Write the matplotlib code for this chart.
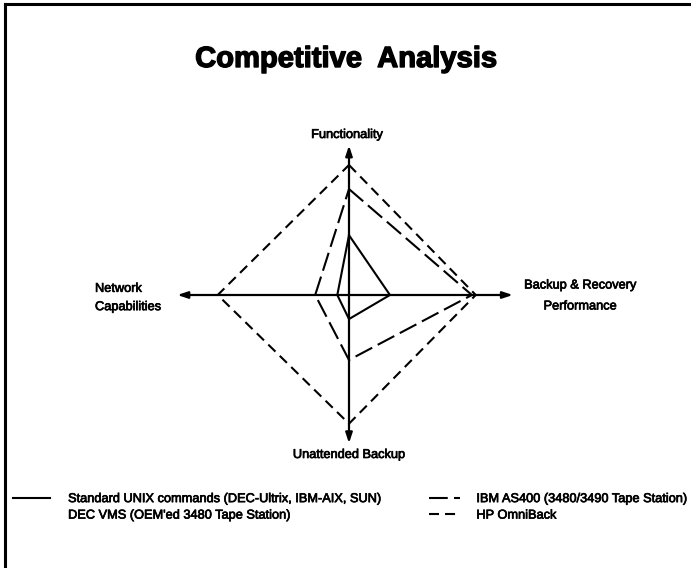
import matplotlib
matplotlib.use("Agg")
import matplotlib.pyplot as plt
import matplotlib.patheffects as pe
from matplotlib.lines import Line2D

plt.rcParams['font.family'] = ['Liberation Sans', 'DejaVu Sans']

# axis order: Functionality (up), Backup & Recovery (right), Unattended (down), Network (left)
axis_names = ["Functionality", "Backup & Recovery\nPerformance",
              "Unattended Backup", "Network\nCapabilities"]
axis_length = [11.5, 12.6, 11.4, 13.2]

series_names = ["Standard UNIX commands (DEC-Ultrix, IBM-AIX, SUN)",
                "IBM AS400 (3480/3490 Tape Station)",
                "HP OmniBack"]
unix_vals = [4.6, 3.15, 1.85, 0.9]
ibm_vals = [8.15, 9.45, 5.0, 2.6]
hp_vals = [10.0, 9.75, 9.9, 10.1]
extra_legend = "DEC VMS (OEM'ed 3480 Tape Station)"

W, H = 691, 568
cx, cy, unit = 349, 295, 13.0


def px(x, y):
    # pixel position -> data coords
    return (x - cx) / unit, (cy - y) / unit


fig = plt.figure(figsize=(W / 100, H / 100), dpi=100)
ax = fig.add_axes([0, 0, 1, 1])
ax.set_xlim(-cx / unit, (W - cx) / unit)
ax.set_ylim(-(H - cy) / unit, cy / unit)
ax.axis('off')

dirs = [(0, 1), (1, 0), (0, -1), (-1, 0)]

# axes with arrows
for (dx, dy), L in zip(dirs, axis_length):
    ax.annotate('', xy=(dx * L, dy * L), xytext=(0, 0),
                arrowprops=dict(arrowstyle='-|>,head_length=0.6,head_width=0.2',
                                lw=1.6, color='black', shrinkA=0, shrinkB=0,
                                mutation_scale=10))


def polygon(vals):
    xs = [dx * v for (dx, dy), v in zip(dirs, vals)]
    ys = [dy * v for (dx, dy), v in zip(dirs, vals)]
    return xs + xs[:1], ys + ys[:1]


styles = [dict(ls='-'),
          dict(ls=(0, (9, 3))),
          dict(ls=(0, (4.8, 2.9)))]
lines = []
for vals, name, st in zip([unix_vals, ibm_vals, hp_vals], series_names, styles):
    xs, ys = polygon(vals)
    ln, = ax.plot(xs, ys, color='black', lw=1.5, label=name, **st)
    lines.append(ln)

# slightly heavier text, like the scanned original
heavy = [pe.withStroke(linewidth=0.5, foreground='black')]

fs = 9.2
ax.text(*px(347, 135), axis_names[0], ha='center', va='center', fontsize=fs,
        path_effects=heavy)
ax.text(*px(580, 296), axis_names[1], ha='center', va='center', fontsize=fs,
        linespacing=2.0, path_effects=heavy)
ax.text(*px(349, 455), axis_names[2], ha='center', va='center', fontsize=fs,
        path_effects=heavy)
ax.text(*px(95, 298), axis_names[3], ha='left', va='center', fontsize=fs,
        linespacing=1.7, path_effects=heavy)

# title
ax.text(*px(346, 59), "Competitive  Analysis", ha='center', va='center',
        fontsize=21, fontweight='bold',
        path_effects=[pe.withStroke(linewidth=1.0, foreground='black')])

# legend, two columns
blank = Line2D([], [], color='none')
leg1 = ax.legend([lines[0], blank], [series_names[0], extra_legend],
                 loc='upper left', bbox_to_anchor=(8 / W, 1 - 488 / H),
                 frameon=False, fontsize=fs, handlelength=2.9,
                 handletextpad=1.4, labelspacing=0.35, borderaxespad=0)
ax.add_artist(leg1)
leg2 = ax.legend([lines[1], lines[2]], series_names[1:],
                 loc='upper left', bbox_to_anchor=(424 / W, 1 - 488 / H),
                 frameon=False, fontsize=fs, handlelength=2.4,
                 handletextpad=1.3, labelspacing=0.35, borderaxespad=0)
for leg in (leg1, leg2):
    for t in leg.get_texts():
        t.set_path_effects(heavy)

# frame lines on top and left
fig.add_artist(Line2D([4.5 / W, 1], [1 - 4 / H, 1 - 4 / H], color='black', lw=2.2))
fig.add_artist(Line2D([4.5 / W, 4.5 / W], [0, 1 - 4 / H], color='black', lw=2.2))

fig.savefig("out.png", dpi=100)
